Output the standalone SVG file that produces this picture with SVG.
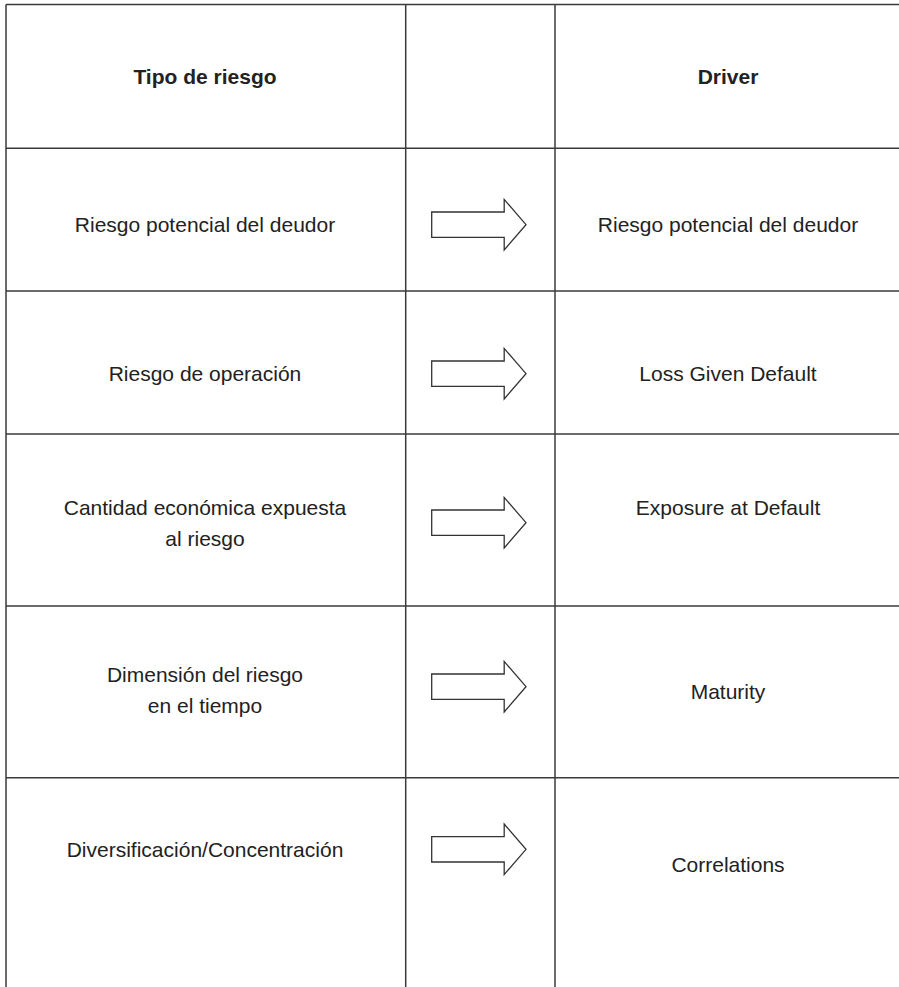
<svg xmlns="http://www.w3.org/2000/svg" width="899" height="987" viewBox="0 0 899 987">
<style>
.grid{stroke:#3a3a3a;stroke-width:1.5;fill:none}
.arrow{fill:#fff;stroke:#333;stroke-width:1.3;stroke-linejoin:miter}
text{font-family:"Liberation Sans",Arial,sans-serif;font-size:21px;fill:#222;text-anchor:middle}
.h{font-weight:bold}
</style>
<defs>
<polygon id="arr" class="arrow" points="0,-12.7 72.5,-12.7 72.5,-25.3 94.3,0 72.5,25.3 72.5,12.7 0,12.7"/>
</defs>
<g id="grid">
<line class="grid" x1="6" y1="4.5" x2="899" y2="4.5"/>
<line class="grid" x1="6" y1="4.5" x2="6" y2="987"/>
<line class="grid" x1="405.7" y1="4.5" x2="405.7" y2="987"/>
<line class="grid" x1="555" y1="4.5" x2="555" y2="987"/>
<line class="grid" x1="6" y1="148.3" x2="899" y2="148.3"/>
<line class="grid" x1="6" y1="291" x2="899" y2="291"/>
<line class="grid" x1="6" y1="434" x2="899" y2="434"/>
<line class="grid" x1="6" y1="606" x2="899" y2="606"/>
<line class="grid" x1="6" y1="777.7" x2="899" y2="777.7"/>
</g>
<g id="header">
<text class="h" x="205" y="84">Tipo de riesgo</text>
<text class="h" x="728" y="84">Driver</text>
</g>
<g id="row1">
<text x="205" y="232">Riesgo potencial del deudor</text>
<use href="#arr" x="431.7" y="224.7"/>
<text x="728" y="232">Riesgo potencial del deudor</text>
</g>
<g id="row2">
<text x="205" y="381">Riesgo de operación</text>
<use href="#arr" x="431.7" y="373.7"/>
<text x="728" y="381">Loss Given Default</text>
</g>
<g id="row3">
<text x="205" y="515">Cantidad económica expuesta</text>
<text x="205" y="546">al riesgo</text>
<use href="#arr" x="431.7" y="522.7"/>
<text x="728" y="515">Exposure at Default</text>
</g>
<g id="row4">
<text x="205" y="682">Dimensión del riesgo</text>
<text x="205" y="713">en el tiempo</text>
<use href="#arr" x="431.7" y="686.7"/>
<text x="728" y="699">Maturity</text>
</g>
<g id="row5">
<text x="205" y="857">Diversificación/Concentración</text>
<use href="#arr" x="431.7" y="849.3"/>
<text x="728" y="872">Correlations</text>
</g>
</svg>
